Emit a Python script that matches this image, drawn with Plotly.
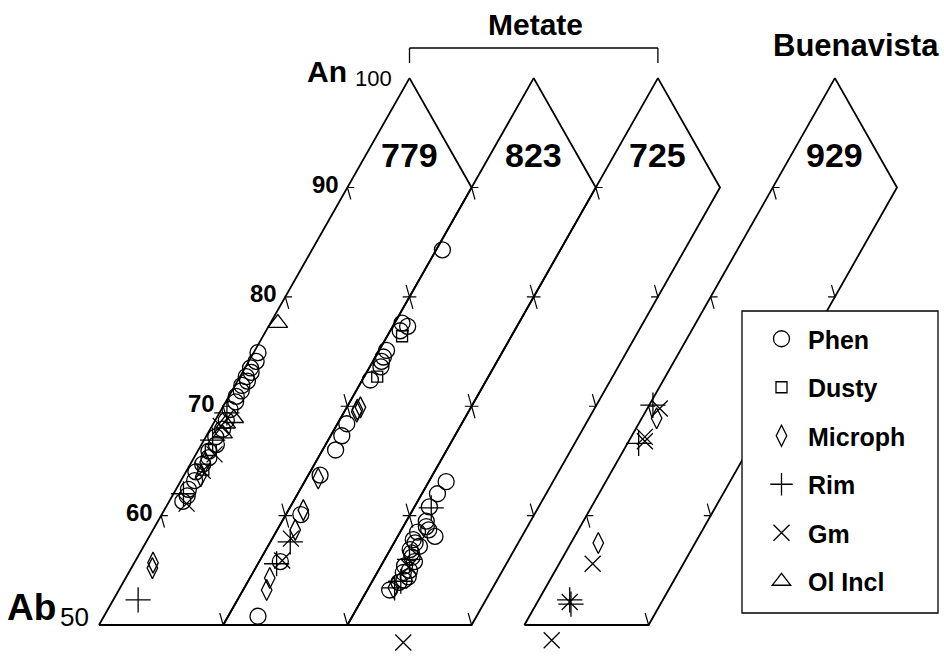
import math
import plotly.graph_objects as go

# ---------------- data: plagioclase compositions (mol % An, mol % Or) ----------------
SAMPLES = ["779", "823", "725", "929"]
KINDS = ["Phen", "Dusty", "Microph", "Rim", "Gm", "Ol Incl"]
an_ticks = [60, 70, 80, 90]

# sample 779
an_779 = [74.9, 74.1, 73.5, 73.1, 72.7, 72.3, 71.9, 71.4, 70.9, 70.4, 69.7, 68.7, 67.9, 67.2, 66.5,
          65.9, 65.3, 64.7, 64.0, 63.2, 62.4, 61.8, 61.3,
          64.2, 66.0,
          55.7, 55.2, 63.6, 64.9,
          52.3, 69.4, 66.9, 62.0,
          65.6, 61.1, 68.2, 64.1,
          77.6, 68.9, 68.4, 67.5]
or_779 = [0.35, 0.6, 0.45, 0.7, 0.5, 0.8, 0.55, 0.75, 0.6, 0.8, 0.7, 0.9, 1.0, 0.8, 1.2,
          0.9, 1.2, 1.0, 0.8, 1.1, 1.0, 1.2, 1.1,
          1.3, 1.0,
          1.5, 1.7, 1.4, 1.1,
          2.0, 0.6, 0.7, 0.8,
          1.5, 1.5, 0.7, 1.3,
          0.6, 1.4, 1.0, 1.2]
kind_779 = ["Phen"] * 23 + ["Dusty"] * 2 + ["Microph"] * 4 + ["Rim"] * 4 + ["Gm"] * 4 + ["Ol Incl"] * 4

# sample 823
an_823 = [84.3, 77.6, 77.3, 76.9, 75.1, 74.5, 74.1, 73.6, 72.4, 68.4, 67.3, 66.0, 63.7, 60.1, 55.8, 50.8,
          76.4, 72.7,
          69.7, 69.9, 69.5, 63.4, 60.5, 58.7, 54.3, 53.2,
          57.6, 55.6,
          55.9, 57.9]
or_823 = [0.5, 0.6, 1.2, 0.8, 0.6, 0.65, 0.7, 0.9, 0.65, 0.75, 0.9, 1.05, 0.95, 1.2, 1.7, 2.4,
          1.2, 1.05,
          0.95, 1.1, 1.0, 0.95, 1.2, 1.45, 1.6, 1.9,
          1.6, 1.5,
          1.8, 1.5]
kind_823 = ["Phen"] * 16 + ["Dusty"] * 2 + ["Microph"] * 8 + ["Rim"] * 2 + ["Gm"] * 2

# sample 725
an_725 = [63.1, 62.0, 60.8, 59.0, 58.5, 58.1, 57.8, 57.2, 56.6, 55.8, 55.0, 54.4, 54.1, 53.2, 56.2,
          55.4, 54.8, 57.5, 56.9, 53.9, 59.5, 58.7,
          53.4,
          60.7, 54.0, 53.4, 56.0,
          48.4, 55.3]
or_725 = [1.4, 1.25, 1.2, 1.85, 1.4, 3.0, 1.4, 2.2, 1.85, 2.5, 2.5, 2.7, 2.5, 1.8, 2.1,
          1.9, 2.1, 1.7, 1.6, 2.2, 1.6, 2.2,
          2.0,
          1.4, 2.3, 2.1, 2.0,
          5.3, 2.3]
kind_725 = ["Phen"] * 22 + ["Microph"] + ["Rim"] * 4 + ["Gm"] * 2

# sample 929 (Buenavista)
an_929 = [68.9, 57.5,
          69.8, 66.8, 67.2, 55.6, 52.1, 48.6,
          70.1, 66.6, 52.3, 51.9]
or_929 = [1.2, 2.2,
          1.0, 1.3, 1.1, 2.7, 2.6, 2.9,
          0.3, 0.9, 2.5, 2.8]
kind_929 = ["Microph"] * 2 + ["Gm"] * 6 + ["Rim"] * 4

DATA = {"779": (an_779, or_779, kind_779), "823": (an_823, or_823, kind_823),
        "725": (an_725, or_725, kind_725), "929": (an_929, or_929, kind_929)}

# ---------------- layout of the strip diagrams ----------------
# horizontal offset (in % units) of each An50-Or0 corner
panel_shift = {"779": 0.0, "823": 10.0, "725": 20.0, "929": 34.25}
PX_X, PX_Y = 12.42, 12.63          # pixels per % unit
ORIGIN = (99, 625)                  # pixel position of An50 of the first strip
W, H = 944, 656
FONT = "Liberation Sans, Arial, Helvetica, sans-serif"
R3 = math.sqrt(3) / 2


def tern(an, orr, shift):
    """An-Ab-Or composition -> cartesian position inside an equilateral triangle."""
    return shift + orr + (an - 50) / 2, (an - 50) * R3


def px(x, y):
    return x / W, 1 - y / H


fig = go.Figure()

# strip outlines: An50-An100-An90Or10-An50Or10
ox, oy = [], []
for s in SAMPLES:
    for an, o in [(50, 0), (100, 0), (90, 10), (50, 10), (50, 0)]:
        x, y = tern(an, o, panel_shift[s])
        ox.append(x)
        oy.append(y)
    ox.append(None)
    oy.append(None)
fig.add_trace(go.Scatter(x=ox, y=oy, mode="lines", line=dict(color="black", width=1.8),
                         hoverinfo="skip", showlegend=False))

# tick marks
TL = 0.55
tx, ty = [], []
for s in SAMPLES:
    sh = panel_shift[s]
    for t in an_ticks:
        x, y = tern(t, 0, sh)
        tx += [x + TL, x, x + TL * 0.5, None]
        ty += [y, y, y - TL * 2 * R3, None]
    for t in [50] + an_ticks[:-1]:
        x, y = tern(t, 10, sh)
        tx += [x - TL, x, x - TL * 0.5, None]
        ty += [y, y, y + TL * 2 * R3, None]
fig.add_trace(go.Scatter(x=tx, y=ty, mode="lines", line=dict(color="black", width=1.2),
                         hoverinfo="skip", showlegend=False))

# analyses, one trace per textural type
STYLE = {"Phen": ("circle-open", 16), "Dusty": ("square-open", 11),
         "Microph": ("diamond-tall-open", 15), "Rim": ("cross-thin-open", 18),
         "Gm": ("x-thin-open", 16), "Ol Incl": ("triangle-up-open", 17)}
for k in KINDS:
    xs, ys = [], []
    for s in SAMPLES:
        an, orr, kind = DATA[s]
        for a, o, kd in zip(an, orr, kind):
            if kd == k:
                x, y = tern(a, o, panel_shift[s])
                xs.append(x)
                ys.append(y)
    sym, size = STYLE[k]
    fig.add_trace(go.Scatter(x=xs, y=ys, mode="markers", name=k, legendgroup=k,
                             marker=dict(symbol=sym, size=size, color="black",
                                         line=dict(color="black", width=1.3))))

ann = []
# An tick labels on the first strip
for t in an_ticks:
    x, y = tern(t, 0, 0)
    ann.append(dict(x=x, y=y, xref="x", yref="y", text=str(t), showarrow=False,
                    xshift=-22, yshift=3, font=dict(size=24, family=FONT, color="black", weight="bold")))
# sample numbers
for s in SAMPLES:
    x, y = tern(100, 0, panel_shift[s])
    ann.append(dict(x=x, y=y, xref="x", yref="y", text=s, showarrow=False, yshift=-77,
                    font=dict(size=34, family=FONT, color="black", weight="bold")))


def label(text, cx, cy, size, bold=True):
    xx, yy = px(cx, cy)
    ann.append(dict(x=xx, y=yy, xref="paper", yref="paper", text=text, showarrow=False,
                    xanchor="center", yanchor="middle",
                    font=dict(size=size, family=FONT, color="black", weight="bold" if bold else "normal")))


label("An", 327, 72, 30)
label("100", 373, 79, 22, bold=False)
label("Ab", 31, 607, 37)
label("50", 74, 617, 26, bold=False)
label("Metate", 535, 25, 30)
label("Buenavista", 856, 46, 31)

# bracket over the Metate samples
xa, _ = tern(100, 0, panel_shift["779"])
xb, _ = tern(100, 0, panel_shift["725"])
yb_top = (ORIGIN[1] - 48) / PX_Y
yb_bot = (ORIGIN[1] - 63) / PX_Y
shapes = [dict(type="line", xref="x", yref="y", x0=xa, x1=xa, y0=yb_bot, y1=yb_top, line=dict(color="black", width=1.3)),
          dict(type="line", xref="x", yref="y", x0=xa, x1=xb, y0=yb_top, y1=yb_top, line=dict(color="black", width=1.3)),
          dict(type="line", xref="x", yref="y", x0=xb, x1=xb, y0=yb_top, y1=yb_bot, line=dict(color="black", width=1.3))]
# legend frame (covers the strip lines behind it)
lx0, ly0 = px(742, 613)
lx1, ly1 = px(938, 311)
shapes.append(dict(type="rect", xref="paper", yref="paper", x0=lx0, x1=lx1, y0=ly0, y1=ly1,
                   line=dict(color="black", width=1.3), fillcolor="white", layer="above"))

lgx, lgy = px(755, 316)
fig.update_layout(
    width=W, height=H, margin=dict(l=0, r=0, t=0, b=0),
    paper_bgcolor="white", plot_bgcolor="white",
    xaxis=dict(visible=False, range=[-ORIGIN[0] / PX_X, (W - ORIGIN[0]) / PX_X]),
    yaxis=dict(visible=False, range=[-(H - ORIGIN[1]) / PX_Y, ORIGIN[1] / PX_Y]),
    showlegend=True,
    legend=dict(x=lgx, y=lgy, xanchor="left", yanchor="top", bgcolor="rgba(0,0,0,0)",
                font=dict(size=25, family=FONT, color="black", weight="bold"),
                tracegroupgap=13, itemwidth=43),
    annotations=ann, shapes=shapes,
)

fig.write_html("out.html")
